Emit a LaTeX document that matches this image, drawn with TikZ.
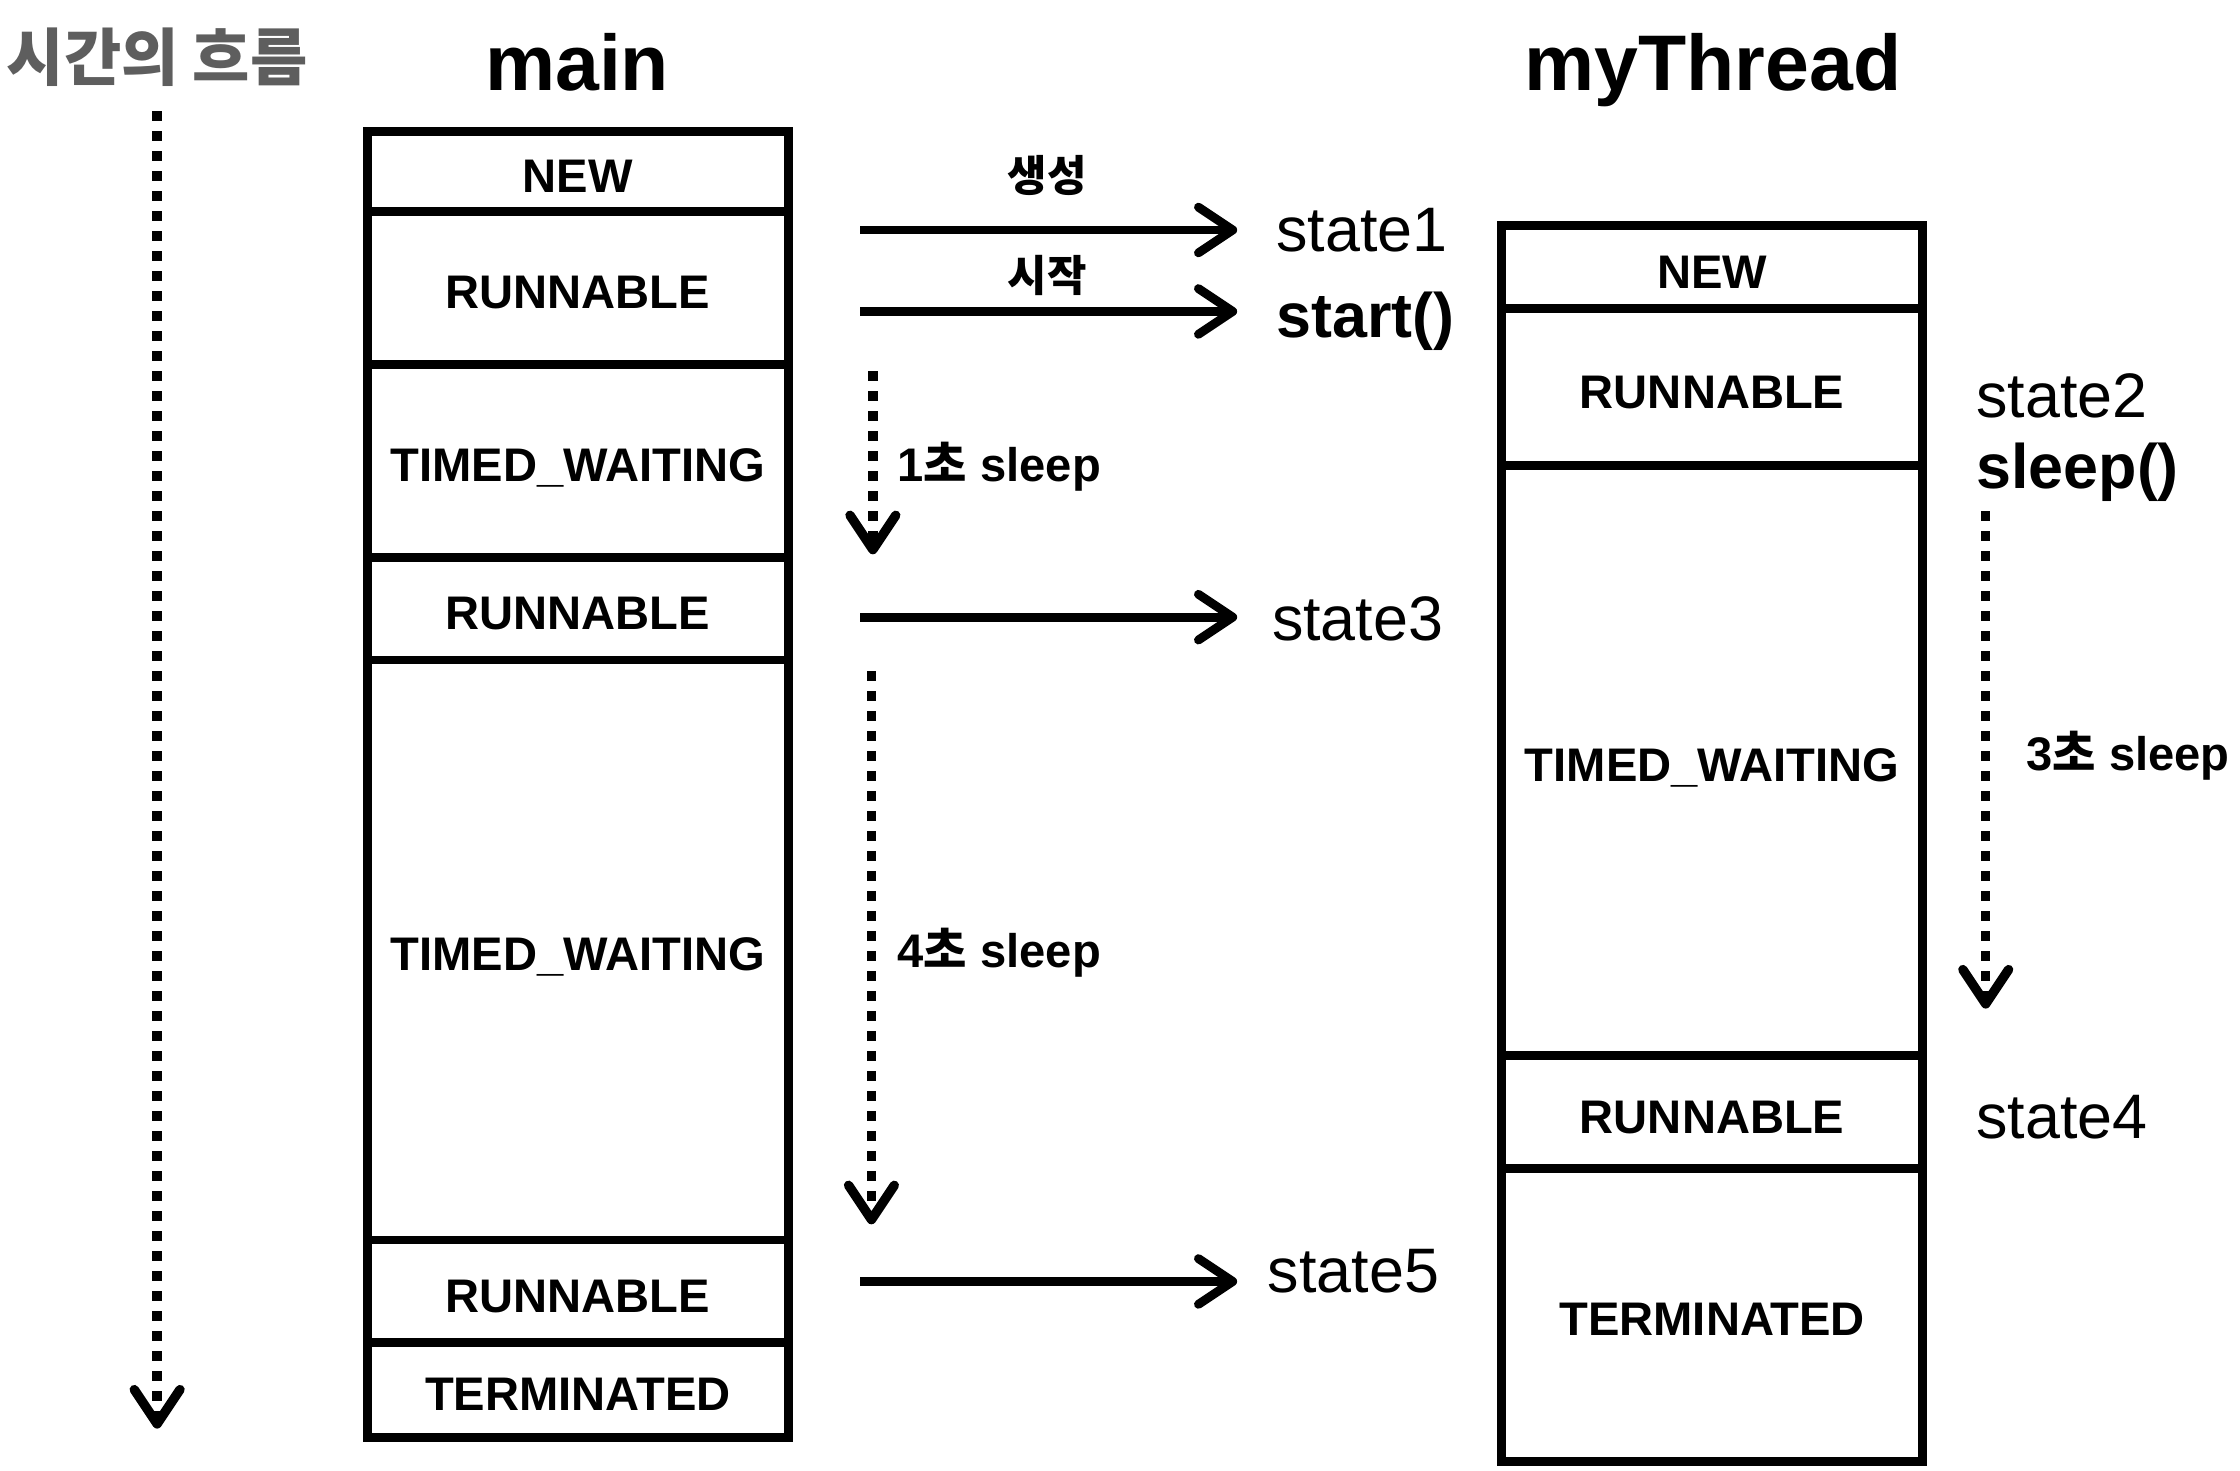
\documentclass[tikz,border=0pt]{standalone}
\usepackage{fontspec}
\setmainfont{Liberation Sans}
\newfontfamily\kr{Noto Sans CJK KR}
\usetikzlibrary{arrows.meta}
\definecolor{flowgray}{HTML}{5E5E5E}
\begin{document}
\begin{tikzpicture}[x=0.5pt,y=-0.5pt,
  cell/.style={draw, line width=3.1pt, minimum width=147.5pt, inner sep=0pt,
    font=\bfseries\fontsize{16.5}{18}\selectfont, text height=14.6pt, text depth=0pt},
  title/.style={font=\bfseries\fontsize{27.6}{30}\selectfont, anchor=base, inner sep=0pt},
  statelbl/.style={font=\fontsize{22}{24}\selectfont, anchor=base west, inner sep=0pt},
  calllbl/.style={font=\bfseries\fontsize{22}{24}\selectfont, anchor=base west, inner sep=0pt},
  sleeplbl/.style={font=\bfseries\fontsize{16.5}{18}\selectfont, anchor=base west, inner sep=0pt},
  krlbl/.style={font=\kr\bfseries\fontsize{15}{17}\selectfont, inner sep=0pt},
  flow/.style={line width=3.1pt,
    -{Straight Barb[length=12pt,width=16pt,round]}},
  dotflow/.style={line width=3.3pt, dash pattern=on 3.3pt off 3.7pt,
    -{Straight Barb[length=12pt,width=16pt,round]}},
]
\fill[white] (0,0) rectangle (1568,1029);
\useasboundingbox (0,0) rectangle (1568,1029);

% time axis
\node[font=\kr\bfseries\fontsize{21.8}{24}\selectfont, text=flowgray, inner sep=0pt] (timelbl) at (110,40) {시간의 흐름};
\coordinate (t0) at (110,78);
\coordinate (t1) at (110,1000);
\draw[dotflow] (t0) -- (t1);

% titles
\node[title] (mainttl) at (404,63) {main};
\node[title] (thrttl) at (1199,63) {myThread};

% main thread states
\node[cell, minimum height=28pt]   (m1) at (404.5,120)   {NEW};
\node[cell, minimum height=53.5pt] (m2) at (404.5,201.5) {RUNNABLE};
\node[cell, minimum height=67.5pt] (m3) at (404.5,322.5) {TIMED\_WAITING};
\node[cell, minimum height=36pt]   (m4) at (404.5,426)   {RUNNABLE};
\node[cell, minimum height=203pt]  (m5) at (404.5,665)   {TIMED\_WAITING};
\node[cell, minimum height=36pt]   (m6) at (404.5,904)   {RUNNABLE};
\node[cell, minimum height=33pt]   (m7) at (404.5,973)   {TERMINATED};

% myThread states
\node[cell, minimum height=29pt]    (n1) at (1198.5,187)   {NEW};
\node[cell, minimum height=55pt]    (n2) at (1198.5,271)   {RUNNABLE};
\node[cell, minimum height=206.5pt] (n3) at (1198.5,532.5) {TIMED\_WAITING};
\node[cell, minimum height=39.5pt]  (n4) at (1198.5,778.5) {RUNNABLE};
\node[cell, minimum height=102.5pt] (n5) at (1198.5,920.5) {TERMINATED};

% state checkpoints
\node[statelbl] (s1) at (893,176) {state1};
\node[calllbl]  (st) at (893,236) {start()};
\node[statelbl] (s3) at (890,448) {state3};
\node[statelbl] (s5) at (887,905) {state5};
\node[statelbl] (s2) at (1383,292) {state2};
\node[calllbl]  (sl) at (1383,342) {sleep()};
\node[statelbl] (s4) at (1383,797) {state4};

% horizontal transitions
\coordinate (a1) at (602,161);
\coordinate (a2) at (602,218);
\coordinate (a3) at (602,432);
\coordinate (a4) at (602,897);
\draw[flow, shorten >=13.5pt] (a1) -- (a1 -| s1.west);
\draw[flow, shorten >=13.5pt] (a2) -- (a2 -| st.west);
\draw[flow, shorten >=12pt]   (a3) -- (a3 -| s3.west);
\draw[flow, shorten >=10.5pt] (a4) -- (a4 -| s5.west);
\node[krlbl] (lcreate) at (733,123) {생성};
\node[krlbl] (lstart) at (733,193) {시작};

% sleeps
\coordinate (d1s) at (611,260);
\coordinate (d1e) at (611,388);
\coordinate (d2s) at (610,470);
\coordinate (d2e) at (610,857);
\coordinate (d3s) at (1390,358);
\coordinate (d3e) at (1390,706);
\draw[dotflow] (d1s) -- (d1e);
\draw[dotflow] (d2s) -- (d2e);
\draw[dotflow] (d3s) -- (d3e);
\node[sleeplbl] (sl1) at (628,337) {1{\kr 초} sleep};
\node[sleeplbl] (sl4) at (628,677) {4{\kr 초} sleep};
\node[sleeplbl] (sl3) at (1418,539) {3{\kr 초} sleep};
\end{tikzpicture}
\end{document}
